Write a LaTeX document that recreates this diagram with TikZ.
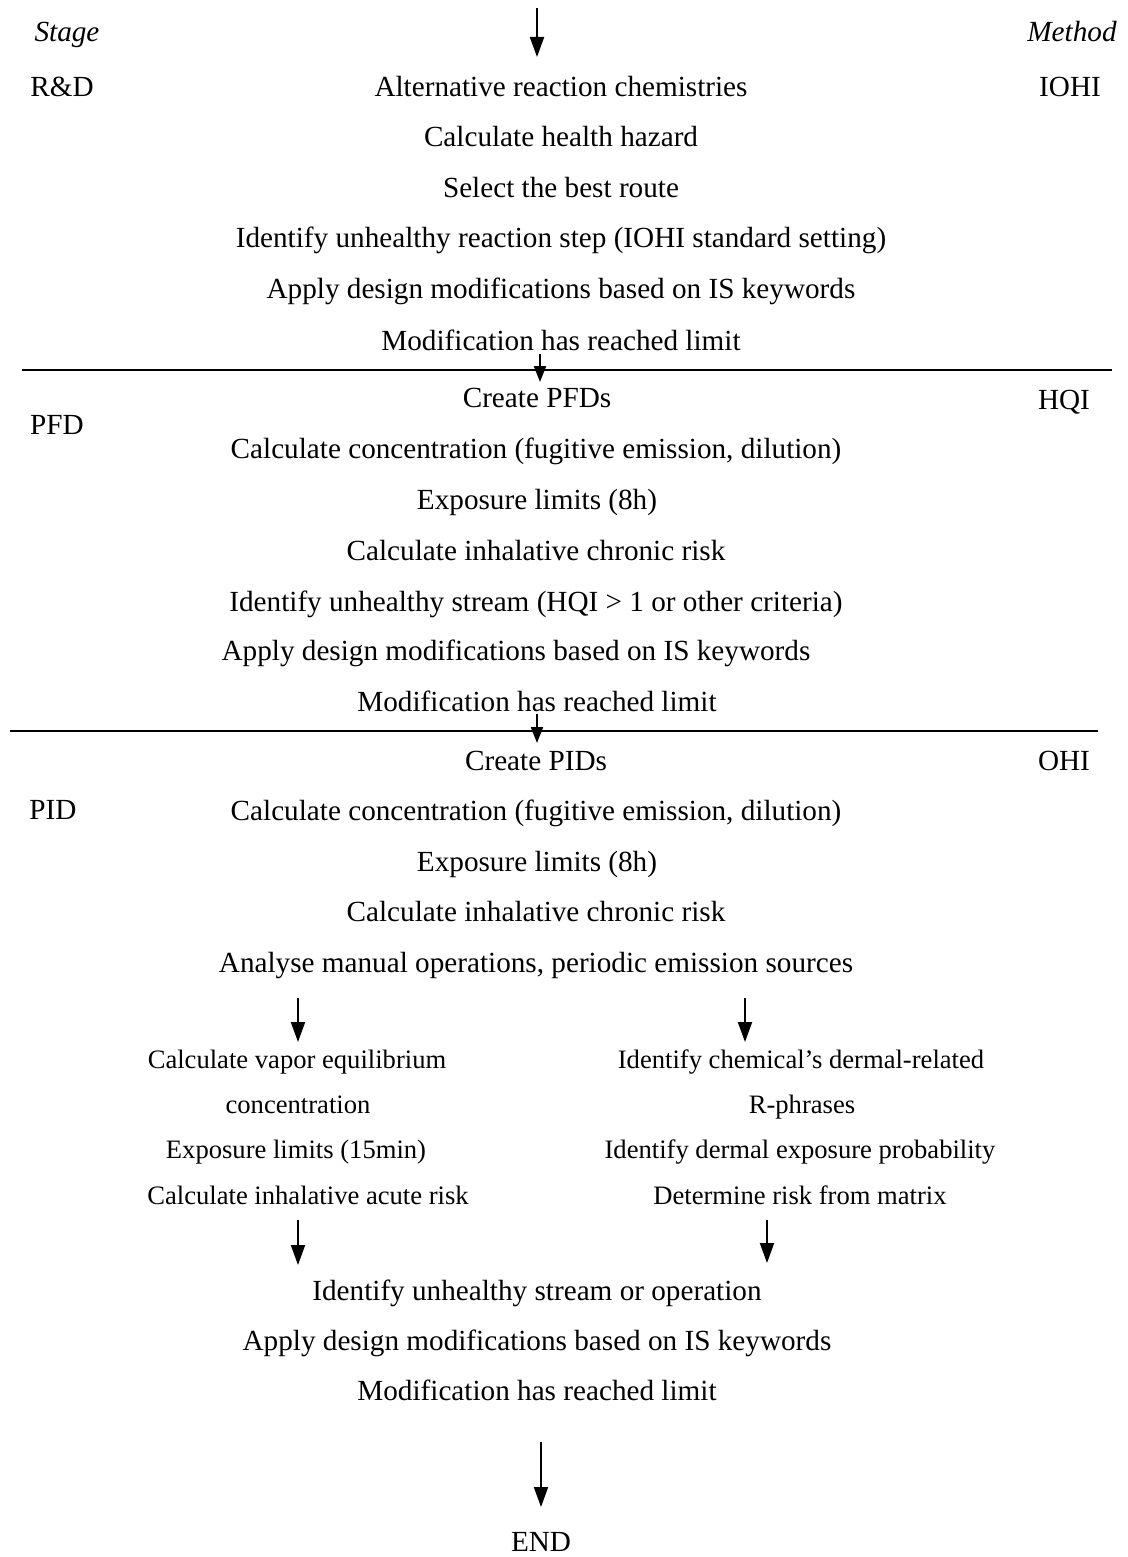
\documentclass[tikz,border=0pt]{standalone}
\usepackage{fontspec}
\setmainfont{Liberation Serif}
\usetikzlibrary{arrows.meta}
\begin{document}
\begin{tikzpicture}[x=0.5pt,y=-0.5pt,
  txt/.style={inner sep=0pt,text height=0.7em,text depth=0.2em,yshift=-2.5pt,font=\fontsize{14.6}{16}\selectfont},
  sub/.style={inner sep=0pt,text height=0.7em,text depth=0.2em,yshift=-2.3pt,font=\fontsize{13.3}{15}\selectfont},
  side/.style={txt},
  arr/.style={line width=1pt,-{Triangle[length=10pt,width=7pt]}},
  sarr/.style={line width=1pt,-{Triangle[length=8pt,width=6pt]}},
  rule/.style={line width=1pt}]
\useasboundingbox (0,0) rectangle (1128,1557);

% column headings
\node[side,font=\fontsize{14.6}{16}\selectfont\itshape] (hstage) at (67,32) {Stage};
\node[side,font=\fontsize{14.6}{16}\selectfont\itshape] (hmethod) at (1072,32) {Method};

% R&D stage
\node[side] (srd) at (62,87) {R\&D};
\node[side] (miohi) at (1070,87) {IOHI};
\node[txt] (r1) at (561,87) {Alternative reaction chemistries};
\node[txt] (r2) at (561,137) {Calculate health hazard};
\node[txt] (r3) at (561,188) {Select the best route};
\node[txt] (r4) at (561,238) {Identify unhealthy reaction step (IOHI standard setting)};
\node[txt] (r5) at (561,289) {Apply design modifications based on IS keywords};
\node[txt] (r6) at (561,340) {Modification has reached limit};
\coordinate (topA) at (537,8);
\coordinate (topB) at (537,57);
\draw[arr] (topA) -- (topB);

\coordinate (l1a) at (22,370);
\coordinate (l1b) at (1112,370);
\draw[rule] (l1a) -- (l1b);
\coordinate (d1a) at (540,354);
\coordinate (d1b) at (540,382);
\draw[sarr] (d1a) -- (d1b);

% PFD stage
\node[side] (spfd) at (57,424) {PFD};
\node[side] (mhqi) at (1064,399) {HQI};
\node[txt] (p1) at (537,397) {Create PFDs};
\node[txt] (p2) at (536,448) {Calculate concentration (fugitive emission, dilution)};
\node[txt] (p3) at (537,499) {Exposure limits (8h)};
\node[txt] (p4) at (536,550) {Calculate inhalative chronic risk};
\node[txt] (p5) at (536,601) {Identify unhealthy stream (HQI {>} 1 or other criteria)};
\node[txt] (p6) at (516,650) {Apply design modifications based on IS keywords};
\node[txt] (p7) at (537,701) {Modification has reached limit};

\coordinate (l2a) at (10,731);
\coordinate (l2b) at (1098,731);
\draw[rule] (l2a) -- (l2b);
\coordinate (d2a) at (537,714);
\coordinate (d2b) at (537,743);
\draw[sarr] (d2a) -- (d2b);

% PID stage
\node[side] (spid) at (53,809) {PID};
\node[side] (mohi) at (1064,760) {OHI};
\node[txt] (q1) at (536,760) {Create PIDs};
\node[txt] (q2) at (536,810) {Calculate concentration (fugitive emission, dilution)};
\node[txt] (q3) at (537,861) {Exposure limits (8h)};
\node[txt] (q4) at (536,911) {Calculate inhalative chronic risk};
\node[txt] (q5) at (536,962) {Analyse manual operations, periodic emission sources};

% inhalative acute branch
\coordinate (la1) at (298,998);
\coordinate (la2) at (298,1042);
\draw[arr] (la1) -- (la2);
\node[sub] (b1) at (297,1059) {Calculate vapor equilibrium};
\node[sub] (b2) at (298,1104) {concentration};
\node[sub] (b3) at (296,1149) {Exposure limits (15min)};
\node[sub] (b4) at (308,1195) {Calculate inhalative acute risk};
\coordinate (lb1) at (298,1220);
\coordinate (lb2) at (298,1265);
\draw[arr] (lb1) -- (lb2);

% dermal branch
\coordinate (ra1) at (745,998);
\coordinate (ra2) at (745,1042);
\draw[arr] (ra1) -- (ra2);
\node[sub] (c1) at (801,1059) {Identify chemical’s dermal-related};
\node[sub] (c2) at (802,1104) {R-phrases};
\node[sub] (c3) at (800,1149) {Identify dermal exposure probability};
\node[sub] (c4) at (800,1195) {Determine risk from matrix};
\coordinate (rb1) at (767,1220);
\coordinate (rb2) at (767,1263);
\draw[arr] (rb1) -- (rb2);

\node[txt] (e1) at (537,1290) {Identify unhealthy stream or operation};
\node[txt] (e2) at (537,1340) {Apply design modifications based on IS keywords};
\node[txt] (e3) at (537,1390) {Modification has reached limit};

\coordinate (fa) at (541,1442);
\coordinate (fb) at (541,1507);
\draw[arr] (fa) -- (fb);
\node[txt] (endn) at (541,1541) {END};
\end{tikzpicture}
\end{document}
